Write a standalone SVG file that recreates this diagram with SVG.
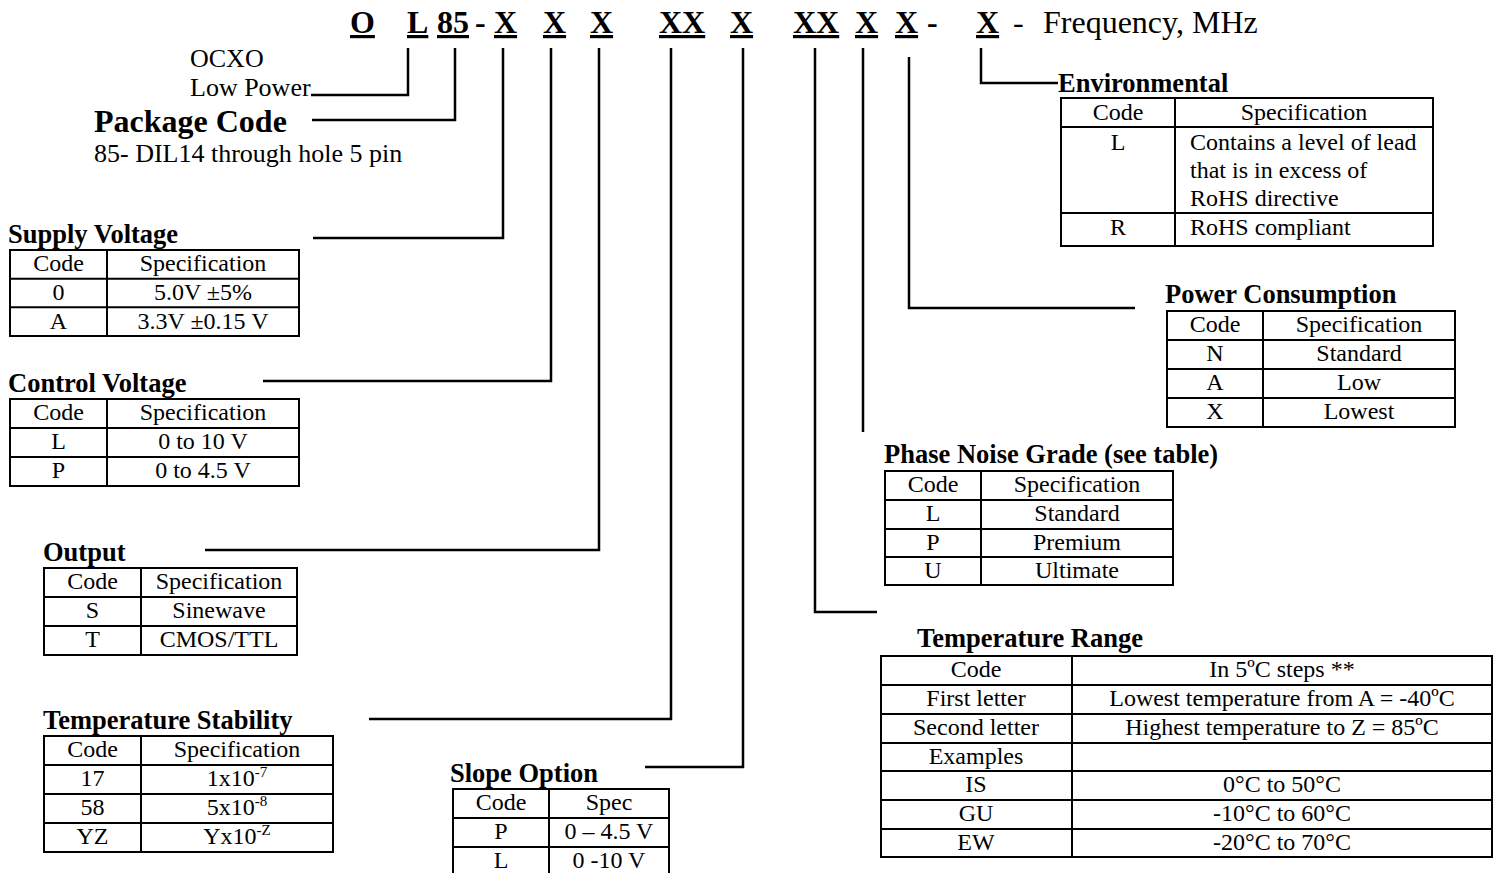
<svg xmlns="http://www.w3.org/2000/svg" width="1502" height="873" viewBox="0 0 1502 873">
<style>
text{font-family:"Liberation Serif","Times New Roman",serif;fill:#000}
.hd{font-size:32px;font-weight:bold}
.u{text-decoration:underline}
.hr{font-size:32px}
.lb{font-size:26px}
.pk{font-size:32px;font-weight:bold}
.ti{font-size:26.5px;font-weight:bold}
.c{font-size:24px;text-anchor:middle}
.l{font-size:24px}
.sup{font-size:15px}
.tb{fill:none;stroke:#000;stroke-width:2}
.ln{fill:none;stroke:#000;stroke-width:2.5}
</style>
<rect width="1502" height="873" fill="#fff"/>

<g id="header">
<text class="hd u" x="350" y="33">O</text>
<text class="hd u" x="407" y="33">L</text>
<text class="hd u" x="437" y="33">85</text>
<text class="hd" x="475" y="33">-</text>
<text class="hd u" x="494" y="33">X</text>
<text class="hd u" x="543" y="33">X</text>
<text class="hd u" x="590" y="33">X</text>
<text class="hd u" x="659" y="33">XX</text>
<text class="hd u" x="730" y="33">X</text>
<text class="hd u" x="793" y="33">XX</text>
<text class="hd u" x="855" y="33">X</text>
<text class="hd u" x="895" y="33">X</text>
<text class="hd" x="927" y="33">-</text>
<text class="hd u" x="976" y="33">X</text>
<text class="hr" x="1013" y="33">-</text>
<text class="hr" x="1043" y="33">Frequency, MHz</text>
</g>

<g id="package">
<text class="lb" x="190" y="67">OCXO</text>
<text class="lb" x="190" y="96">Low Power</text>
<text class="pk" x="94" y="132">Package Code</text>
<text class="lb" x="94" y="162">85- DIL14 through hole 5 pin</text>
</g>

<g id="connectors">
<polyline class="ln" points="408,48 408,95 311,95"/>
<polyline class="ln" points="455,48 455,120 312,120"/>
<polyline class="ln" points="503,48 503,238 313,238"/>
<polyline class="ln" points="551,48 551,381 263,381"/>
<polyline class="ln" points="599,48 599,550 205,550"/>
<polyline class="ln" points="671,48 671,719 369,719"/>
<polyline class="ln" points="743,48 743,767 645,767"/>
<polyline class="ln" points="815,48 815,612 877,612"/>
<polyline class="ln" points="863,48 863,432"/>
<polyline class="ln" points="909,57 909,308 1135,308"/>
<polyline class="ln" points="981,48 981,83 1058,83"/>
</g>

<g id="supply-voltage">
<text class="ti" x="8" y="243">Supply Voltage</text>
<rect class="tb" x="10" y="250" width="289" height="86"/>
<line class="tb" x1="107" y1="250" x2="107" y2="336"/>
<line class="tb" x1="10" y1="278.7" x2="299" y2="278.7"/>
<line class="tb" x1="10" y1="307.3" x2="299" y2="307.3"/>
<text class="c" x="58.5" y="271">Code</text>
<text class="c" x="203" y="271">Specification</text>
<text class="c" x="58.5" y="300">0</text>
<text class="c" x="203" y="300">5.0V ±5%</text>
<text class="c" x="58.5" y="329">A</text>
<text class="c" x="203" y="329">3.3V ±0.15 V</text>
</g>

<g id="control-voltage">
<text class="ti" x="8" y="392">Control Voltage</text>
<rect class="tb" x="10" y="399" width="289" height="87"/>
<line class="tb" x1="107" y1="399" x2="107" y2="486"/>
<line class="tb" x1="10" y1="428" x2="299" y2="428"/>
<line class="tb" x1="10" y1="457" x2="299" y2="457"/>
<text class="c" x="58.5" y="420">Code</text>
<text class="c" x="203" y="420">Specification</text>
<text class="c" x="58.5" y="449">L</text>
<text class="c" x="203" y="449">0 to 10 V</text>
<text class="c" x="58.5" y="478">P</text>
<text class="c" x="203" y="478">0 to 4.5 V</text>
</g>

<g id="output">
<text class="ti" x="43" y="561">Output</text>
<rect class="tb" x="44" y="568" width="253" height="87"/>
<line class="tb" x1="141" y1="568" x2="141" y2="655"/>
<line class="tb" x1="44" y1="597" x2="297" y2="597"/>
<line class="tb" x1="44" y1="626" x2="297" y2="626"/>
<text class="c" x="92.5" y="589">Code</text>
<text class="c" x="219" y="589">Specification</text>
<text class="c" x="92.5" y="618">S</text>
<text class="c" x="219" y="618">Sinewave</text>
<text class="c" x="92.5" y="647">T</text>
<text class="c" x="219" y="647">CMOS/TTL</text>
</g>

<g id="temperature-stability">
<text class="ti" x="43" y="729">Temperature Stability</text>
<rect class="tb" x="44" y="736" width="289" height="116"/>
<line class="tb" x1="141" y1="736" x2="141" y2="852"/>
<line class="tb" x1="44" y1="765" x2="333" y2="765"/>
<line class="tb" x1="44" y1="794" x2="333" y2="794"/>
<line class="tb" x1="44" y1="823" x2="333" y2="823"/>
<text class="c" x="92.5" y="757">Code</text>
<text class="c" x="237" y="757">Specification</text>
<text class="c" x="92.5" y="786">17</text>
<text class="c" x="237" y="786">1x10<tspan class="sup" dy="-9">-7</tspan></text>
<text class="c" x="92.5" y="815">58</text>
<text class="c" x="237" y="815">5x10<tspan class="sup" dy="-9">-8</tspan></text>
<text class="c" x="92.5" y="844">YZ</text>
<text class="c" x="237" y="844">Yx10<tspan class="sup" dy="-9">-Z</tspan></text>
</g>

<g id="slope-option">
<text class="ti" x="450" y="782">Slope Option</text>
<polyline class="tb" points="453,880 453,789 669,789 669,880"/>
<line class="tb" x1="549" y1="789" x2="549" y2="880"/>
<line class="tb" x1="453" y1="818" x2="669" y2="818"/>
<line class="tb" x1="453" y1="847" x2="669" y2="847"/>
<text class="c" x="501" y="810">Code</text>
<text class="c" x="609" y="810">Spec</text>
<text class="c" x="501" y="839">P</text>
<text class="c" x="609" y="839">0 – 4.5 V</text>
<text class="c" x="501" y="868">L</text>
<text class="c" x="609" y="868">0 -10 V</text>
</g>

<g id="environmental">
<text class="ti" x="1058" y="92">Environmental</text>
<rect class="tb" x="1061" y="98" width="372" height="148"/>
<line class="tb" x1="1175" y1="98" x2="1175" y2="246"/>
<line class="tb" x1="1061" y1="127" x2="1433" y2="127"/>
<line class="tb" x1="1061" y1="213" x2="1433" y2="213"/>
<text class="c" x="1118" y="120">Code</text>
<text class="c" x="1304" y="120">Specification</text>
<text class="c" x="1118" y="150">L</text>
<text class="l" x="1190" y="150">Contains a level of lead</text>
<text class="l" x="1190" y="178">that is in excess of</text>
<text class="l" x="1190" y="206">RoHS directive</text>
<text class="c" x="1118" y="235">R</text>
<text class="l" x="1190" y="235">RoHS compliant</text>
</g>

<g id="power-consumption">
<text class="ti" x="1165" y="303">Power Consumption</text>
<rect class="tb" x="1167" y="311" width="288" height="116"/>
<line class="tb" x1="1263" y1="311" x2="1263" y2="427"/>
<line class="tb" x1="1167" y1="340" x2="1455" y2="340"/>
<line class="tb" x1="1167" y1="369" x2="1455" y2="369"/>
<line class="tb" x1="1167" y1="398" x2="1455" y2="398"/>
<text class="c" x="1215" y="332">Code</text>
<text class="c" x="1359" y="332">Specification</text>
<text class="c" x="1215" y="361">N</text>
<text class="c" x="1359" y="361">Standard</text>
<text class="c" x="1215" y="390">A</text>
<text class="c" x="1359" y="390">Low</text>
<text class="c" x="1215" y="419">X</text>
<text class="c" x="1359" y="419">Lowest</text>
</g>

<g id="phase-noise">
<text class="ti" x="884" y="463">Phase Noise Grade (see table)</text>
<rect class="tb" x="885" y="471" width="288" height="114"/>
<line class="tb" x1="981" y1="471" x2="981" y2="585"/>
<line class="tb" x1="885" y1="500" x2="1173" y2="500"/>
<line class="tb" x1="885" y1="529" x2="1173" y2="529"/>
<line class="tb" x1="885" y1="557" x2="1173" y2="557"/>
<text class="c" x="933" y="492">Code</text>
<text class="c" x="1077" y="492">Specification</text>
<text class="c" x="933" y="521">L</text>
<text class="c" x="1077" y="521">Standard</text>
<text class="c" x="933" y="550">P</text>
<text class="c" x="1077" y="550">Premium</text>
<text class="c" x="933" y="578">U</text>
<text class="c" x="1077" y="578">Ultimate</text>
</g>

<g id="temperature-range">
<text class="ti" x="917" y="647">Temperature Range</text>
<rect class="tb" x="881" y="656" width="611" height="201"/>
<line class="tb" x1="1072" y1="656" x2="1072" y2="857"/>
<line class="tb" x1="881" y1="685" x2="1492" y2="685"/>
<line class="tb" x1="881" y1="714" x2="1492" y2="714"/>
<line class="tb" x1="881" y1="743" x2="1492" y2="743"/>
<line class="tb" x1="881" y1="771" x2="1492" y2="771"/>
<line class="tb" x1="881" y1="800" x2="1492" y2="800"/>
<line class="tb" x1="881" y1="829" x2="1492" y2="829"/>
<text class="c" x="976" y="677">Code</text>
<text class="c" x="1282" y="677">In 5ºC steps **</text>
<text class="c" x="976" y="706">First letter</text>
<text class="c" x="1282" y="706">Lowest temperature from A = -40ºC</text>
<text class="c" x="976" y="735">Second letter</text>
<text class="c" x="1282" y="735">Highest temperature to Z = 85ºC</text>
<text class="c" x="976" y="764">Examples</text>
<text class="c" x="976" y="792">IS</text>
<text class="c" x="1282" y="792">0°C to 50°C</text>
<text class="c" x="976" y="821">GU</text>
<text class="c" x="1282" y="821">-10°C to 60°C</text>
<text class="c" x="976" y="850">EW</text>
<text class="c" x="1282" y="850">-20°C to 70°C</text>
</g>
</svg>
